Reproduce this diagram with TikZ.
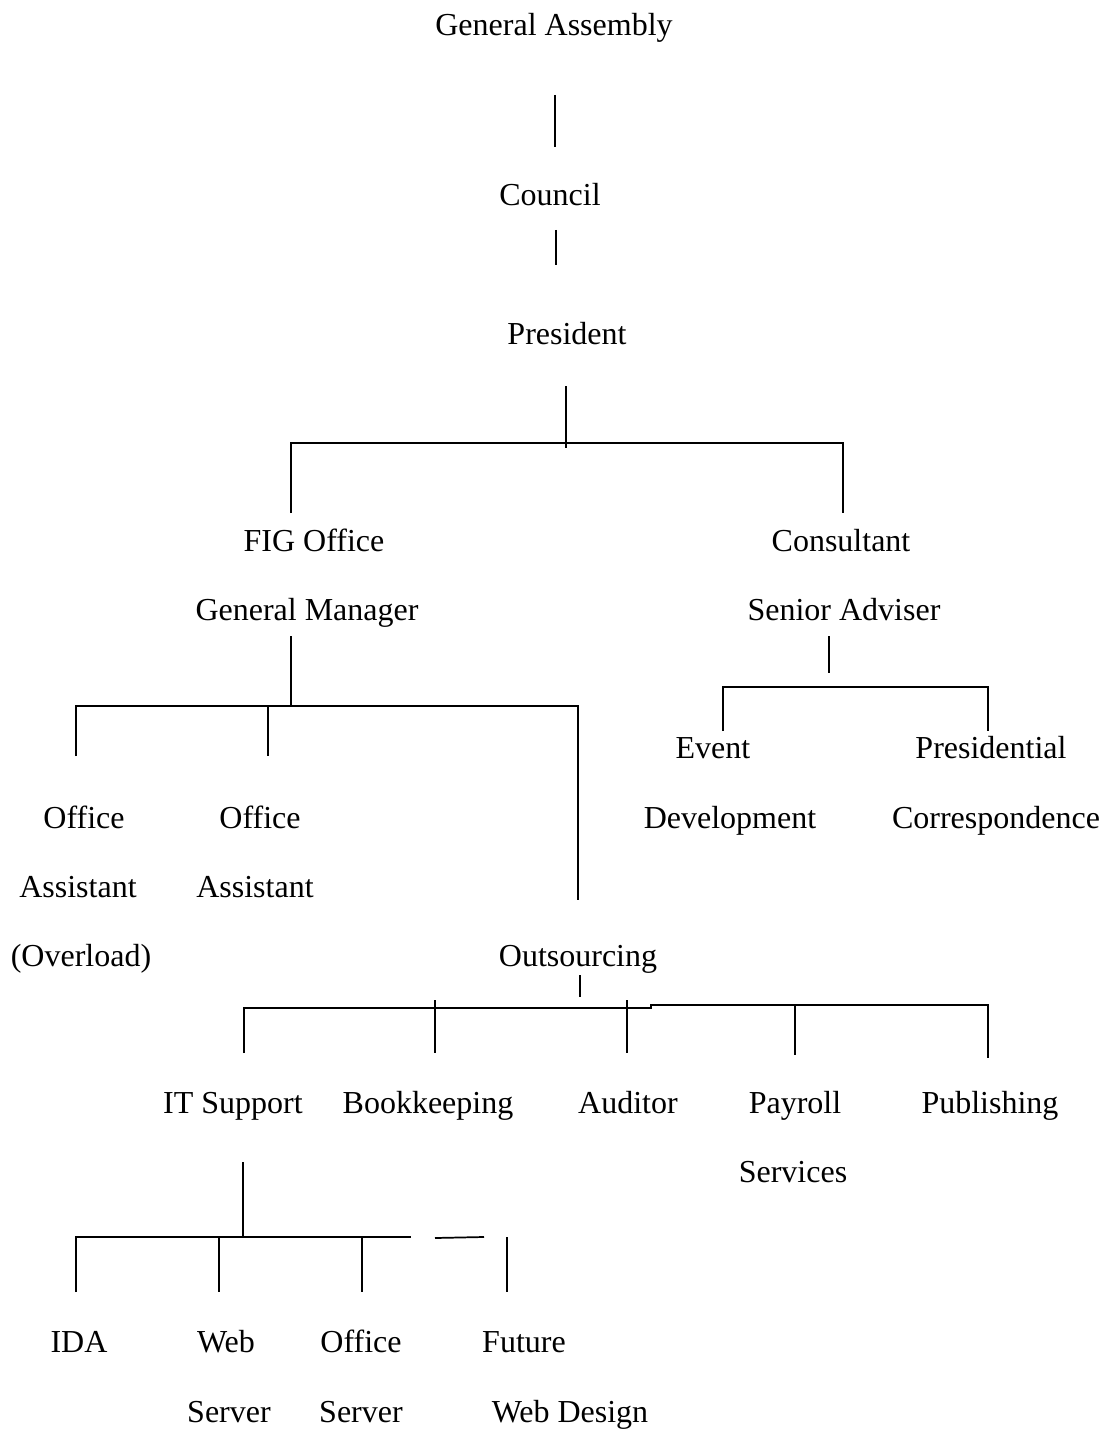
\documentclass[tikz,border=0pt]{standalone}
\usepackage{fontspec}
\setmainfont{Liberation Serif}
\begin{document}
\begin{tikzpicture}[x=0.75pt,y=-0.75pt,
  lbl/.style={anchor=base,inner sep=0pt,font=\fontsize{24}{28}\selectfont},
  conn/.style={line width=1.3pt,line cap=butt}]
\useasboundingbox (0,0) rectangle (1104,1430);
% labels
\node[lbl] (ga) at (554,36) {General Assembly};
\node[lbl] (co) at (550,206) {Council};
\node[lbl] (pr) at (567,344) {President};
\node[lbl] (fig) at (314,551) {FIG Office};
\node[lbl] (cons) at (841,551) {Consultant};
\node[lbl] (gm) at (307,620) {General Manager};
\node[lbl] (sa) at (844,620) {Senior Adviser};
\node[lbl] (ev1) at (713,758) {Event};
\node[lbl] (ev2) at (730,828) {Development};
\node[lbl] (pc1) at (991,758) {Presidential};
\node[lbl] (pc2) at (996,828) {Correspondence};
\node[lbl] (oa1) at (84,828) {Office};
\node[lbl] (oa2) at (78,897) {Assistant};
\node[lbl] (oa3) at (81,966) {(Overload)};
\node[lbl] (ob1) at (260,828) {Office};
\node[lbl] (ob2) at (255,897) {Assistant};
\node[lbl] (out) at (578,966) {Outsourcing};
\node[lbl] (it) at (233,1113) {IT Support};
\node[lbl] (bk) at (428,1113) {Bookkeeping};
\node[lbl] (au) at (628,1113) {Auditor};
\node[lbl] (pay1) at (795,1113) {Payroll};
\node[lbl] (pay2) at (793,1182) {Services};
\node[lbl] (pub) at (990,1113) {Publishing};
\node[lbl] (ida) at (79,1352) {IDA};
\node[lbl] (ws1) at (226,1352) {Web};
\node[lbl] (ws2) at (229,1422) {Server};
\node[lbl] (os1) at (361,1352) {Office};
\node[lbl] (os2) at (361,1422) {Server};
\node[lbl] (fw1) at (524,1352) {Future};
\node[lbl] (fw2) at (570,1422) {Web Design};
% coordinates
\coordinate (a1) at (555,95);  \coordinate (a2) at (555,147);
\coordinate (b1) at (556,230); \coordinate (b2) at (556,265);
\coordinate (p1) at (566,386); \coordinate (p2) at (566,448);
\coordinate (pL) at (291,443); \coordinate (pR) at (843,443);
\coordinate (pLd) at (291,513); \coordinate (pRd) at (843,513);
\coordinate (g1) at (291,636); \coordinate (g2) at (291,706);
\coordinate (gL) at (76,706);  \coordinate (gR) at (578,706);
\coordinate (gLd) at (76,756); \coordinate (gM) at (268,706); \coordinate (gMd) at (268,756);
\coordinate (gRd) at (578,900);
\coordinate (s1) at (829,636); \coordinate (s2) at (829,673);
\coordinate (sL) at (723,687); \coordinate (sR) at (988,687);
\coordinate (sLd) at (723,731); \coordinate (sRd) at (988,731);
\coordinate (o1) at (580,975); \coordinate (o2) at (580,997);
\coordinate (oL) at (244,1008); \coordinate (oM) at (651,1008);
\coordinate (oM2) at (651,1005); \coordinate (oR) at (988,1005);
\coordinate (oLd) at (244,1053);
\coordinate (ob) at (435,1000); \coordinate (obd) at (435,1053);
\coordinate (oc) at (627,1000); \coordinate (ocd) at (627,1053);
\coordinate (od) at (795,1005); \coordinate (odd) at (795,1055);
\coordinate (oRd) at (988,1058);
\coordinate (i1) at (243,1162); \coordinate (i2) at (243,1237);
\coordinate (iL) at (76,1237);  \coordinate (iR) at (411,1237);
\coordinate (iLd) at (76,1292);
\coordinate (ib) at (219,1237); \coordinate (ibd) at (219,1292);
\coordinate (ic) at (362,1237); \coordinate (icd) at (362,1292);
\coordinate (ix1) at (435,1238); \coordinate (ix2) at (484,1237);
\coordinate (id) at (507,1237); \coordinate (idd) at (507,1292);
% connectors
\draw[conn] (a1) -- (a2);
\draw[conn] (b1) -- (b2);
\draw[conn] (p1) -- (p2);
\draw[conn] (pLd) -- (pL) -- (pR) -- (pRd);
\draw[conn] (g1) -- (g2);
\draw[conn] (gLd) -- (gL) -- (gR) -- (gRd);
\draw[conn] (gM) -- (gMd);
\draw[conn] (s1) -- (s2);
\draw[conn] (sLd) -- (sL) -- (sR) -- (sRd);
\draw[conn] (o1) -- (o2);
\draw[conn] (oLd) -- (oL) -- (oM) -- (oM2) -- (oR) -- (oRd);
\draw[conn] (ob) -- (obd);
\draw[conn] (oc) -- (ocd);
\draw[conn] (od) -- (odd);
\draw[conn] (i1) -- (i2);
\draw[conn] (iLd) -- (iL) -- (iR);
\draw[conn] (ib) -- (ibd);
\draw[conn] (ic) -- (icd);
\draw[conn] (ix1) -- (ix2);
\draw[conn] (id) -- (idd);
\end{tikzpicture}
\end{document}
